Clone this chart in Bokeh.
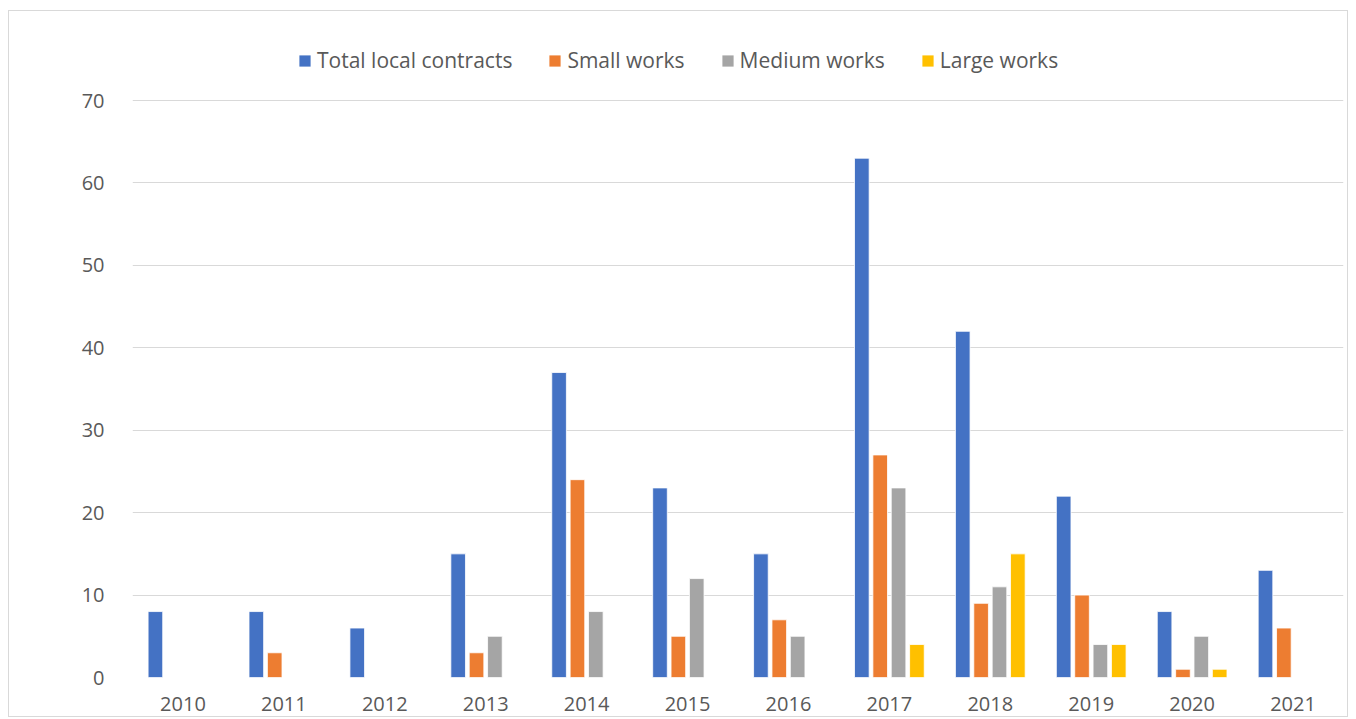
from bokeh.plotting import figure
from bokeh.models import FactorRange, Range1d, FixedTicker, Legend, LegendItem, ColumnDataSource
from bokeh.transform import dodge
from bokeh.embed import file_html
from bokeh.resources import INLINE

years = ["2010", "2011", "2012", "2013", "2014", "2015", "2016", "2017", "2018", "2019", "2020", "2021"]
total_local = [8, 8, 6, 15, 37, 23, 15, 63, 42, 22, 8, 13]
small_works = [0, 3, 0, 3, 24, 5, 7, 27, 9, 10, 1, 6]
medium_works = [0, 0, 0, 5, 8, 12, 5, 23, 11, 4, 5, 0]
large_works = [0, 0, 0, 0, 0, 0, 0, 4, 15, 4, 1, 0]
series_names = ["Total local contracts", "Small works", "Medium works", "Large works"]
colors = ["#4472C4", "#ED7D31", "#A5A5A5", "#FFC000"]
y_ticks = [0, 10, 20, 30, 40, 50, 60, 70]

src = ColumnDataSource(dict(x=years, total=total_local, small=small_works,
                            medium=medium_works, large=large_works))

FONT = "Open Sans"
TXT = "#595959"

p = figure(x_range=FactorRange(factors=years, range_padding=0),
           y_range=Range1d(0, 80.8),
           width=1340, height=707, output_backend="svg", toolbar_location=None,
           min_border_left=123, min_border_right=6, min_border_top=0, min_border_bottom=41)
p.styles = {"border": "1px solid #d9d9d9", "margin-left": "8px", "margin-top": "10px"}

p.outline_line_color = None
p.background_fill_color = "white"
p.border_fill_color = "white"

p.ygrid.ticker = FixedTicker(ticks=y_ticks)
p.ygrid.grid_line_color = "#d9d9d9"
p.ygrid.grid_line_width = 1.2
p.xgrid.grid_line_color = None

p.yaxis.ticker = FixedTicker(ticks=y_ticks)
for ax in (p.xaxis[0], p.yaxis[0]):
    ax.axis_line_color = None
    ax.major_tick_line_color = None
    ax.minor_tick_line_color = None
    ax.major_label_text_font = FONT
    ax.major_label_text_font_size = "20px"
    ax.major_label_text_color = TXT
p.yaxis.major_label_standoff = 22
p.xaxis.major_label_standoff = 13

offsets = [-0.273, -0.091, 0.091, 0.273]
fields = ["total", "small", "medium", "large"]
renderers = []
for f, off, c in zip(fields, offsets, colors):
    r = p.vbar(x=dodge("x", off, range=p.x_range), top=f, width=0.145, source=src,
               fill_color=c, line_color="white", line_width=0.8)
    renderers.append(r)

legend = Legend(items=[LegendItem(label=n, renderers=[r]) for n, r in zip(series_names, renderers)],
                orientation="horizontal", location=(165, 603),
                label_text_font=FONT, label_text_font_size="21px", label_text_color=TXT,
                glyph_width=15, glyph_height=15, label_standoff=5, spacing=35,
                padding=0, margin=0, border_line_color=None, background_fill_alpha=0)
p.add_layout(legend, "center")

open("out.html", "w").write(file_html(p, INLINE))
